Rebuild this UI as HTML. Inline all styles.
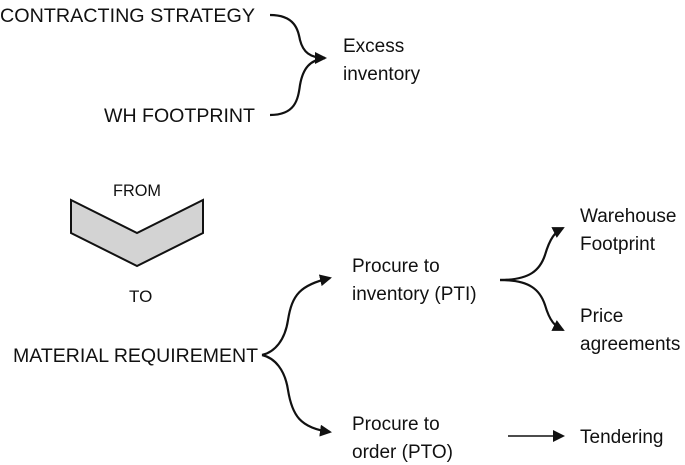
<!DOCTYPE html>
<html><head><meta charset="utf-8"><style>
html,body{margin:0;padding:0;background:#fff;width:685px;height:465px;overflow:hidden}
text{font-family:"Liberation Sans",Arial,sans-serif;fill:#111}
</style></head><body>
<svg width="685" height="465" viewBox="0 0 685 465" xmlns="http://www.w3.org/2000/svg">
<defs><marker id="a" markerWidth="12" markerHeight="12" refX="10" refY="6" orient="auto" markerUnits="userSpaceOnUse"><path d="M0,0 L12,6 L0,12 z" fill="#111"/></marker></defs>
<g font-size="19">
<text x="0" y="22" textLength="255" lengthAdjust="spacingAndGlyphs">CONTRACTING STRATEGY</text>
<text x="104" y="122" textLength="151" lengthAdjust="spacingAndGlyphs">WH FOOTPRINT</text>
<text x="343" y="52">Excess</text>
<text x="343" y="80">inventory</text>
<text x="13" y="362" textLength="245" lengthAdjust="spacingAndGlyphs">MATERIAL REQUIREMENT</text>
<text x="352" y="272">Procure to</text>
<text x="352" y="300">inventory (PTI)</text>
<text x="352" y="430">Procure to</text>
<text x="352" y="458">order (PTO)</text>
<text x="580" y="222">Warehouse</text>
<text x="580" y="250">Footprint</text>
<text x="580" y="322">Price</text>
<text x="580" y="350">agreements</text>
<text x="580" y="443">Tendering</text>
</g>
<g font-size="17">
<text x="113" y="196" textLength="48" lengthAdjust="spacingAndGlyphs">FROM</text>
<text x="129" y="302">TO</text>
</g>
<polygon points="71,200 137,233 203,200 203,233 137,266 71,233" fill="#d3d3d3" stroke="#111" stroke-width="2"/>
<g fill="none" stroke="#111" stroke-width="2.2">
<path d="M270,15 C295,15 298,30 300,40 C303,52 310,58 325,58" marker-end="url(#a)"/>
<path d="M270,115 C295,115 298,100 300,85 C303,68 310,60 325,58"/>
<path d="M262,355 C275,352 285,340 288,320 C292,295 300,285 330,278" marker-end="url(#a)"/>
<path d="M262,355 C275,358 285,370 288,390 C292,415 300,428 330,432" marker-end="url(#a)"/>
<path d="M500,280 C530,280 540,270 545,255 C550,238 555,232 563,228" marker-end="url(#a)"/>
<path d="M500,280 C530,280 540,290 545,305 C550,322 555,326 563,330" marker-end="url(#a)"/>
<path d="M508,436 L563,436" stroke-width="1.6" marker-end="url(#a)"/>
</g>
</svg>
</body></html>
